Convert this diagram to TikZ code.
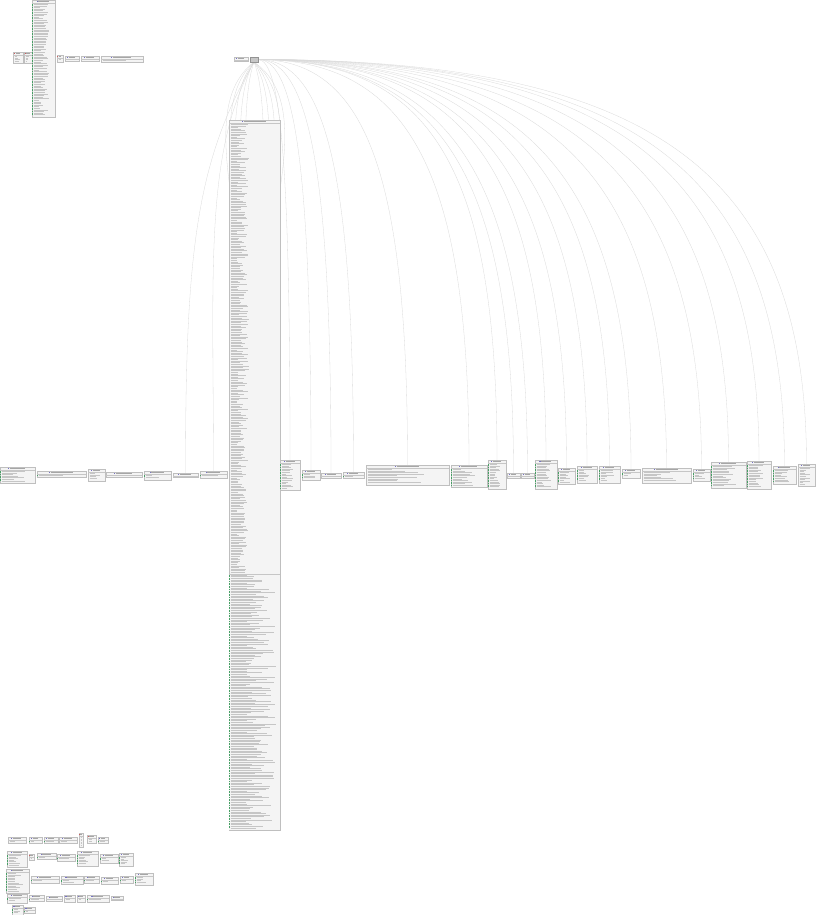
\documentclass[tikz,border=0pt]{standalone}
\usetikzlibrary{calc,positioning}

\definecolor{clsicon}{RGB}{118,112,196}
\definecolor{enumicon}{RGB}{205,92,92}
\definecolor{memgreen}{RGB}{70,160,100}

\pgfdeclarelayer{bg}
\pgfsetlayers{bg,main}

\tikzset{
  classnode/.style={draw=gray!50, fill=gray!9, line width=0.35pt,
                    inner sep=0pt, outer sep=0pt, anchor=north west},
  hubnode/.style={classnode, fill=gray!45, draw=gray!85},
  rowline/.style={draw=gray!45, line width=0.45pt},
  titleline/.style={draw=gray!70, line width=0.55pt},
  sepline/.style={draw=gray!45, line width=0.3pt},
  greenmark/.style={draw=memgreen, line width=0.7pt},
  link/.style={draw=gray!30, line width=0.3pt},
}

% member rows of a box: name, left, top, width, height, green (0/1), length factor
\newcommand{\memberrows}[7]{%
  \pgfmathtruncatemacro\nrows{(#5-1)/1.6}
  \ifnum\nrows>0
    \foreach \r in {1,...,\nrows}{%
      \pgfmathsetmacro\rlen{(0.25+0.5*rnd)*(#4-2.5)*#7}
      \draw[rowline] (#2+1.6,#3+\r*1.6-0.6) -- ++(\rlen,0);
      \ifnum#6=1 \draw[greenmark] (#2+0.4,#3+\r*1.6-0.6) -- ++(0.9,0);\fi
    }%
  \fi
}

% box: name, left, top, width, height, green members (0/1), icon colour, length factor
\newcommand{\classbox}[8]{%
  \node[classnode, minimum width=#4pt, minimum height=#5pt] (#1) at (#2,#3) {};
  \pgfmathsetmacro\tlen{min(0.45*#4,22)}
  \fill[#7] ($(#1.north)+(-0.5*\tlen-1.6,1.1)$) rectangle ++(1.1,1.1);
  \draw[titleline] ($(#1.north)+(-0.5*\tlen,1.6)$) -- ++(\tlen,0);
  \draw[sepline] ($(#1.north west)+(0,3.2)$) -- ($(#1.north east)+(0,3.2)$);
  \memberrows{#1}{#2}{#3+3.2}{#4}{#5-3.2}{#6}{#8}
}

\begin{document}
\begin{tikzpicture}[x=1pt, y=-1pt]
\useasboundingbox (0,0) rectangle (821,915);
\pgfmathsetseed{3}

% top left group
\classbox{tlA}{13}{52}{10}{11}{0}{enumicon}{1}
\classbox{tlB}{24}{52}{8}{11}{0}{enumicon}{1}
\classbox{tlC}{32}{0}{23}{117}{1}{clsicon}{1}
\classbox{tlD}{57}{55}{6}{7}{0}{enumicon}{1}
\classbox{tlE}{65}{56}{14}{5}{1}{clsicon}{1}
\classbox{tlF}{81}{56}{18}{5}{1}{clsicon}{1}
\classbox{tlG}{101}{56}{42}{6}{0}{clsicon}{1}

% hub
\classbox{hubA}{234}{57}{14}{4}{0}{clsicon}{1}
\node[hubnode, minimum width=8pt, minimum height=5pt] (hub) at (250,57) {};

% big class, fields then methods
\classbox{bigcls}{229}{120}{51}{710}{0}{clsicon}{0.5}
\fill[gray!9] (229.3,574.3) rectangle (279.7,829.7);
\draw[sepline] (229,574) -- (280,574);
\memberrows{bigclsB}{229}{574}{51}{256}{1}{1.25}

% left row
\classbox{lA}{0}{467}{35}{16}{1}{clsicon}{1}
\classbox{lB}{37}{471}{49}{6}{1}{clsicon}{1}
\classbox{lC}{88}{469}{17}{12}{0}{clsicon}{1}
\classbox{lD}{106}{472}{36}{5}{0}{clsicon}{1}
\classbox{lE}{144}{471}{27}{9}{1}{clsicon}{1}
\classbox{lF}{173}{473}{25}{4}{1}{clsicon}{1}
\classbox{lG}{200}{471}{27}{7}{1}{clsicon}{1}

% right row
\classbox{rA}{280}{460}{20}{30}{1}{clsicon}{1}
\classbox{rB}{302}{470}{18}{10}{1}{clsicon}{1}
\classbox{rC}{321}{473}{20}{5}{1}{clsicon}{1}
\classbox{rD}{343}{472}{21}{6}{1}{clsicon}{1}
\classbox{rE}{366}{465}{83}{20}{0}{clsicon}{1}
\classbox{rF}{451}{465}{36}{22}{1}{clsicon}{1}
\classbox{rG}{488}{460}{18}{29}{1}{clsicon}{1}
\classbox{rH}{507}{473}{13}{5}{1}{clsicon}{1}
\classbox{rI}{521}{473}{13}{5}{1}{clsicon}{1}
\classbox{rJ}{535}{460}{22}{29}{1}{clsicon}{1}
\classbox{rK}{558}{468}{17}{16}{1}{clsicon}{1}
\classbox{rL}{577}{466}{20}{17}{1}{clsicon}{1}
\classbox{rM}{599}{466}{21}{17}{1}{clsicon}{1}
\classbox{rN}{622}{469}{18}{9}{1}{clsicon}{1}
\classbox{rO}{642}{468}{49}{15}{0}{clsicon}{1}
\classbox{rP}{693}{469}{17}{12}{1}{clsicon}{1}
\classbox{rQ}{711}{462}{35}{26}{1}{clsicon}{1}
\classbox{rR}{747}{461}{24}{28}{1}{clsicon}{1}
\classbox{rS}{773}{466}{23}{18}{1}{clsicon}{1}
\classbox{rT}{798}{464}{17}{22}{0}{clsicon}{1}

% bottom left group
\classbox{bA}{8}{837}{18}{6}{0}{clsicon}{1}
\classbox{bB}{29}{837}{13}{6}{1}{clsicon}{1}
\classbox{bC}{44}{837}{14}{6}{1}{clsicon}{1}
\classbox{bD}{59}{837}{18}{6}{0}{clsicon}{1}
\classbox{bE}{79}{833}{4}{14}{0}{enumicon}{1}
\classbox{bF}{87}{835}{9}{8}{0}{enumicon}{1}
\classbox{bG}{98}{837}{10}{6}{1}{clsicon}{1}
\classbox{bH}{7}{851}{20}{16}{1}{clsicon}{1}
\classbox{bI}{29}{854}{5}{6}{0}{enumicon}{1}
\classbox{bJ}{37}{853}{19}{6}{1}{clsicon}{1}
\classbox{bK}{57}{854}{18}{7}{1}{clsicon}{1}
\classbox{bL}{77}{851}{21}{15}{1}{clsicon}{1}
\classbox{bM}{100}{854}{18}{9}{1}{clsicon}{1}
\classbox{bN}{119}{853}{14}{13}{1}{clsicon}{1}
\classbox{bO}{6}{869}{23}{24}{1}{clsicon}{1}
\classbox{bP}{31}{876}{28}{7}{1}{clsicon}{1}
\classbox{bQ}{61}{876}{22}{8}{1}{clsicon}{1}
\classbox{bR}{84}{876}{15}{7}{1}{clsicon}{1}
\classbox{bS}{101}{877}{17}{7}{1}{clsicon}{1}
\classbox{bT}{120}{876}{13}{7}{1}{clsicon}{1}
\classbox{bU}{135}{873}{18}{12}{1}{clsicon}{1}
\classbox{bV}{7}{894}{20}{9}{1}{clsicon}{1}
\classbox{bW}{29}{895}{15}{6}{1}{clsicon}{1}
\classbox{bX}{46}{896}{16}{5}{1}{clsicon}{1}
\classbox{bY}{64}{895}{11}{7}{0}{clsicon}{1}
\classbox{bZ}{77}{895}{8}{7}{0}{clsicon}{1}
\classbox{bAA}{87}{895}{22}{7}{1}{clsicon}{1}
\classbox{bAB}{111}{896}{12}{4}{0}{clsicon}{1}
\classbox{bAC}{12}{905}{11}{10}{1}{clsicon}{1}
\classbox{bAD}{24}{907}{11}{6}{1}{clsicon}{1}

% connectors, behind the boxes
\begin{pgfonlayer}{bg}
\foreach \b/\d in {rA/24,rB/40,rC/55,rD/72,rE/112,rF/158,rG/180,rH/192,rI/202,rJ/216,
                   rK/231,rL/247,rM/264,rN/280,rO/306,rP/332,rQ/352,rR/375,rS/395,rT/411}
  \draw[link] (hub.east) .. controls +(\d,0) and +(0,-280) .. (\b.north);
\foreach \k in {14,24,34,44,52}{
  \draw[link] (hub.south) .. controls +(-\k,40) and +(-0.3*\k,-120) .. ($(bigcls.north)+(-4,200)$);
  \draw[link] (hub.south) .. controls +(1.1*\k,40) and +(0.3*\k,-120) .. ($(bigcls.north)+(4,200)$);
}
\draw[link] (hub.south) .. controls +(-50,90) and +(0,-200) .. (lG.north);
\draw[link] (hub.south) .. controls +(-58,100) and +(0,-220) .. (lF.north);
\end{pgfonlayer}

\end{tikzpicture}
\end{document}
